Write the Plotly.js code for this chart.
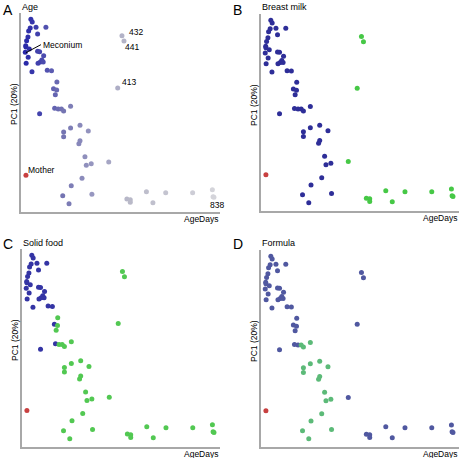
<!DOCTYPE html>
<html>
<head>
<meta charset="utf-8">
<script src="https://cdn.plot.ly/plotly-3.0.1.min.js"></script>
<style>html,body{margin:0;padding:0;background:#fff;}#chart{width:461px;height:458px;}</style>
</head>
<body>
<div id="chart"></div>
<script>
// ---- data ----
const ageDays = [26,32,23,16,49,93,56,13,7,3, 4,19,1,56,65,83,14,75,68,81,
  58,5,99,118,31,142,127,141,135,132, 148,162,172,203,65,203,245,282,172,172,
  245,240,267,295,273,373,254,206,168,196, 298,432,441,413,454,469,469,541,627,570,
  747,835,838,842];
const pc1 = [0.342,0.334,0.316,0.307,0.318,0.318,0.298,0.289,0.278,0.263,
  0.259,0.253,0.243,0.246,0.245,0.233,0.228,0.220,0.214,0.214,
  0.210,0.210,0.189,0.188,0.185,0.154,0.134,0.130,0.116,0.075,
  0.073,0.073,0.067,0.081,0.059,0.016,0.024,0.007,0.004,-0.010,
  -0.022,-0.031,-0.070,-0.091,-0.096,-0.086,-0.135,-0.157,-0.187,-0.211,
  -0.183,0.293,0.277,0.136,-0.197,-0.199,-0.207,-0.175,-0.178,-0.208,
  -0.178,-0.169,-0.190,-0.192];
const breastMilk = [1,1,1,1,1,1,1,1,1,1, 1,1,1,1,1,1,1,1,1,1, 1,1,1,1,1,1,1,1,1,1,
  1,1,1,1,1,1,1,1,1,1, 1,1,1,1,1,0,1,1,1,1, 1,0,0,0,0,0,0,0,0,0, 0,0,0,0];
const solidFood = [0,0,0,0,0,0,0,0,0,0, 0,0,0,0,0,0,0,0,0,0, 0,0,0,0,0,1,0,1,1,0,
  1,1,1,1,0,1,1,1,1,1, 1,1,1,1,1,1,1,1,1,1, 1,1,1,1,1,1,1,1,1,1, 1,1,1,1];
const formula = [0,0,0,0,0,0,0,0,0,0, 0,0,0,0,0,0,0,0,0,0, 0,0,0,0,0,0,0,0,0,0,
  0,1,1,1,0,1,1,1,1,1, 1,1,1,1,1,0,1,1,1,1, 1,0,0,0,0,0,0,0,0,0, 0,0,0,0];
const motherDays = [4];
const motherPC1 = [-0.126];
const panelLetters = ['A','B','C','D'];
const panelTitles = ['Age','Breast milk','Solid food','Formula'];

// ---- styling ----
const W = 461, H = 458;
const FONT = '"Liberation Sans", Arial, sans-serif';
const px = v => v / W, py = v => 1 - v / H;
const XR = [-18, 869], YR = [-0.236, 0.361];
const axStyle = {showline:true, linecolor:'#a8a8a8', linewidth:2, showticklabels:false,
  ticks:'', showgrid:false, zeroline:false, fixedrange:true};
const panels = [
  {x:[21,220], y:[13,212], n:''},
  {x:[261,459], y:[14,211], n:'2'},
  {x:[22,220], y:[249,447], n:'3'},
  {x:[261,459], y:[250,447], n:'4'}
];
// colour for flag value [0, 1] in each panel
const pairCols = [
  null,
  ['#46c846', '#2e2e98'],
  ['#3434a4', '#52c852'],
  ['#5058a0', '#5cba78']
];
const traces = [];
const layout = {width:W, height:H, margin:{l:0,r:0,t:0,b:0}, showlegend:false,
  paper_bgcolor:'#fff', plot_bgcolor:'#fff', font:{family:FONT, color:'#000'}, annotations:[]};
const flags = [null, breastMilk, solidFood, formula];

panels.forEach((p, i) => {
  const xa = 'xaxis' + p.n, ya = 'yaxis' + p.n;
  layout[xa] = Object.assign({}, axStyle, {domain:[px(p.x[0]), px(p.x[1])], range:XR, anchor:'y'+p.n});
  layout[ya] = Object.assign({}, axStyle, {domain:[py(p.y[1]), py(p.y[0])], range:YR, anchor:'x'+p.n});
  let color;
  if (i === 0) {
    color = ageDays;
  } else {
    color = flags[i].map(f => pairCols[i][f]);
  }
  const m = {size:5, color:color, line:{width:0}};
  if (i === 0) {
    m.colorscale = [[0,'#2828a8'],[0.12,'#5454b0'],[0.2,'#7474b2'],[0.36,'#9898c0'],[0.55,'#b8b8c8'],[1,'#d4d4da']];
    m.cmin = 0; m.cmax = 838;
  }
  traces.push({type:'scatter', mode:'markers', x:ageDays, y:pc1, xaxis:'x'+p.n, yaxis:'y'+p.n,
    marker:m, hoverinfo:'none'});
  traces.push({type:'scatter', mode:'markers', x:motherDays, y:motherPC1, xaxis:'x'+p.n, yaxis:'y'+p.n,
    marker:{size:5, color:'#c84040'}, hoverinfo:'none'});

  const lx = i % 2 === 0 ? 0 : 230;
  const ly = i < 2 ? 0 : 229;
  // panel letter
  layout.annotations.push({xref:'paper', yref:'paper', x:px(lx+0.5), y:py(ly + (i<2?10:15)), xanchor:'left', yanchor:'middle',
    text:panelLetters[i], showarrow:false, font:{size:14, family:FONT}});
  // title
  layout.annotations.push({xref:'paper', yref:'paper', x:px(p.x[0]-1), y:py(ly + (i<2?7:13.5)), xanchor:'left', yanchor:'middle',
    text:panelTitles[i], showarrow:false, font:{size:9, family:FONT}});
  // x label
  layout.annotations.push({xref:'paper', yref:'paper', x:px(p.x[1]+1), y:py(p.y[1]+7), xanchor:'right', yanchor:'middle',
    text:'AgeDays', showarrow:false, font:{size:8.5, family:FONT}});
  // y label
  layout.annotations.push({xref:'paper', yref:'paper', x:px(p.x[0]-7), y:py(p.y[0]+91), xanchor:'center', yanchor:'middle',
    text:'PC1 (20%)', textangle:-90, showarrow:false, font:{size:8.5, family:FONT}});
});

// labels in panel A
const labA = [
  {t:'432', x:454, y:0.304}, {t:'441', x:437, y:0.259}, {t:'413', x:423, y:0.155},
  {t:'838', x:816, y:-0.216}, {t:'Mother', x:4, y:-0.110}
];
labA.forEach(l => layout.annotations.push({xref:'x', yref:'y', x:l.x, y:l.y, xanchor:'left', yanchor:'middle',
  text:l.t, showarrow:false, font:{size:8.5, family:FONT}}));
layout.annotations.push({xref:'x', yref:'y', x:4, y:0.242, text:'Meconium', showarrow:true, arrowhead:0,
  arrowwidth:1, arrowcolor:'#000', ax:15, ay:-8, xanchor:'left', yanchor:'middle', standoff:0,
  font:{size:8.5, family:FONT}});

Plotly.newPlot('chart', traces, layout, {staticPlot:true, displayModeBar:false});
</script>
</body>
</html>
